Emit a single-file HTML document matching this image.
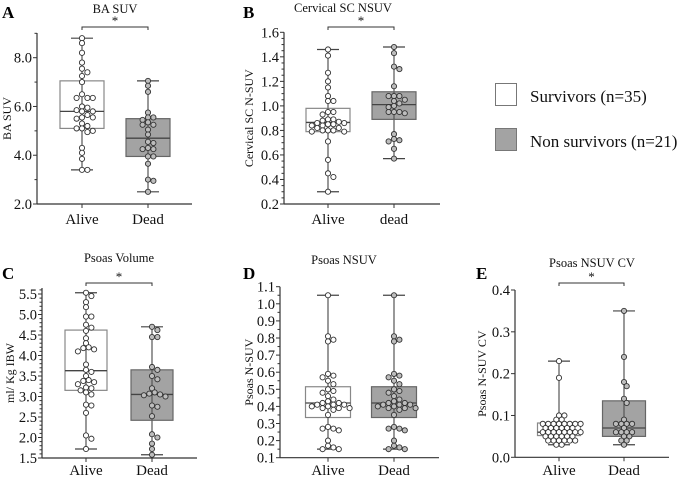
<!DOCTYPE html>
<html><head><meta charset="utf-8">
<style>
body{margin:0;background:#fff;}
svg{display:block;}
svg text{font-family:"Liberation Serif","Times New Roman",serif;}
</style></head>
<body>
<svg id="chart" width="685" height="477" viewBox="0 0 685 477" xmlns="http://www.w3.org/2000/svg" font-family="Liberation Serif, serif">
<g>
<rect x="495.5" y="83.5" width="21" height="22" fill="#fff" stroke="#777"/>
<text x="530" y="102" font-size="17" fill="#111" font-family="Liberation Serif, serif">Survivors (n=35)</text>
<rect x="495.5" y="128.5" width="21" height="22" fill="#a3a3a3" stroke="#777"/>
<text x="530" y="147" font-size="17" fill="#111" font-family="Liberation Serif, serif">Non survivors (n=21)</text>
</g>
</svg>
<script>
// ---- Data ----
const categoriesA = ["Alive","Dead"];
const aliveA = [8.8,8.6,8.2,7.8,7.55,7.4,7.25,7.0,6.5,6.35,6.35,6.35,6.0,5.95,5.85,5.8,5.8,5.65,5.55,5.5,5.55,5.3,5.2,5.1,5.1,4.95,5.0,4.3,4.1,3.85,3.4,3.4];
const deadA = [7.05,6.85,6.6,5.75,5.55,5.55,5.45,5.35,5.25,5.25,5.05,4.85,4.55,4.5,4.3,4.25,4.25,3.95,3.95,3.65,3.0,2.95,2.5];
const statsAliveA = [3.4,5.1,5.8,7.05,8.8];
const statsDeadA = [2.5,3.95,4.7,5.5,7.05];
const ticksA = [2.0,4.0,6.0,8.0];

const categoriesB = ["Alive","dead"];
const aliveB = [1.46,1.41,1.27,1.20,1.15,1.08,1.04,1.04,0.95,0.95,0.93,0.89,0.89,0.88,0.87,0.86,0.86,0.85,0.85,0.84,0.84,0.82,0.82,0.80,0.80,0.80,0.79,0.79,0.71,0.56,0.45,0.42,0.30];
const deadB = [1.48,1.43,1.32,1.30,1.16,1.08,1.08,1.08,1.05,1.04,1.02,1.00,0.99,0.95,0.95,0.95,0.94,0.77,0.73,0.72,0.71,0.65,0.57];
const statsAliveB = [0.30,0.79,0.865,0.98,1.46];
const statsDeadB = [0.57,0.89,1.01,1.115,1.48];
const ticksB = [0.2,0.4,0.6,0.8,1.0,1.2,1.4,1.6];

const categoriesC = ["Alive","Dead"];
const aliveC = [5.53,5.45,5.3,5.18,4.95,4.95,4.75,4.68,4.6,4.42,4.3,4.2,4.18,4.15,4.1,3.78,3.65,3.6,3.5,3.4,3.38,3.35,3.3,3.22,3.2,3.15,3.1,3.05,2.8,2.78,2.6,2.05,1.97,1.72];
const deadC = [4.70,4.62,4.45,4.45,3.72,3.65,3.5,3.42,3.2,3.1,3.07,3.05,3.03,3.0,2.78,2.75,2.52,2.08,2.0,1.85,1.72,1.58];
const statsAliveC = [1.72,3.15,3.63,4.62,5.53];
const statsDeadC = [1.58,2.42,3.05,3.65,4.70];
const ticksC = [1.5,2.0,2.5,3.0,3.5,4.0,4.5,5.0,5.5];

const categoriesD = ["Alive","Dead"];
const aliveD = [1.05,0.81,0.79,0.78,0.59,0.58,0.57,0.55,0.53,0.5,0.49,0.48,0.46,0.44,0.43,0.42,0.42,0.41,0.41,0.41,0.40,0.40,0.39,0.39,0.39,0.38,0.35,0.28,0.27,0.27,0.26,0.20,0.17,0.16,0.15,0.15];
const deadD = [1.05,0.81,0.79,0.78,0.59,0.58,0.57,0.55,0.53,0.5,0.49,0.48,0.46,0.44,0.43,0.42,0.42,0.41,0.41,0.41,0.40,0.40,0.39,0.39,0.39,0.38,0.35,0.28,0.27,0.27,0.26,0.20,0.17,0.16,0.15,0.15];
const statsAliveD = [0.15,0.335,0.42,0.515,1.05];
const statsDeadD = [0.15,0.335,0.42,0.515,1.05];
const ticksD = [0.1,0.2,0.3,0.4,0.5,0.6,0.7,0.8,0.9,1.0,1.1];

const categoriesE = ["Alive","Dead"];
const aliveE = [0.23,0.19,0.10,0.10,0.09,0.09,0.08,0.08,0.08,0.08,0.08,0.08,0.08,0.08,0.07,0.07,0.07,0.07,0.07,0.07,0.06,0.06,0.06,0.06,0.06,0.06,0.06,0.06,0.05,0.05,0.05,0.05,0.05,0.05,0.04,0.04,0.04,0.04,0.04,0.04,0.03,0.03];
const deadE = [0.35,0.24,0.18,0.17,0.14,0.13,0.09,0.08,0.08,0.08,0.08,0.07,0.06,0.06,0.06,0.06,0.05,0.05,0.04,0.04,0.03];
const statsAliveE = [0.03,0.052,0.06,0.082,0.23];
const statsDeadE = [0.03,0.05,0.07,0.135,0.35];
const ticksE = [0.0,0.1,0.2,0.3,0.4];

const NS = "http://www.w3.org/2000/svg";
const FONT = "Liberation Serif, serif";
const svg = document.getElementById("chart");
function mk(tag, attrs, parent){
  const e = document.createElementNS(NS, tag);
  for (const k in attrs) e.setAttribute(k, attrs[k]);
  if (tag === "text") e.setAttribute("font-family", FONT);
  (parent||svg).appendChild(e);
  return e;
}

function panel(cfg){
  const g = mk("g", {});
  
  
  const y = v => cfg.y0 + (v - cfg.vmin) / (cfg.vmax - cfg.vmin) * (cfg.y1 - cfg.y0);
  const fmt = v => v.toFixed(1);
  const L = mk("text", {x: cfg.lx, y: cfg.ly, "font-size": 17, "font-weight": "bold", fill: "#000"}, g);
  L.textContent = cfg.letter;
  
  
  const T = mk("text", {x: cfg.tx, y: cfg.ty, "font-size": 12.5, "text-anchor": "middle", fill: "#111"}, g);
  T.textContent = cfg.title;
  
  
  const yc = (cfg.axisTop + cfg.y0) / 2;
  const YT = mk("text", {x: cfg.ytx, y: yc, "font-size": 12, "text-anchor": "middle", fill: "#111", transform: `rotate(-90 ${cfg.ytx} ${yc})`}, g);
  YT.textContent = cfg.ytitle;
  
  
  const ya = mk("line", {x1: cfg.ax, x2: cfg.ax, y1: cfg.axisTop, y2: cfg.y0, stroke: "#333", "stroke-width": 1.2}, g);
  
  
  const xa = mk("line", {x1: cfg.ax, x2: cfg.axEnd, y1: cfg.y0, y2: cfg.y0, stroke: "#333", "stroke-width": 1.2}, g);
  
  
  const step = cfg.ticks[1] - cfg.ticks[0];
  cfg.ticks.forEach(t => {
    const ty = y(t);
    mk("line", {x1: cfg.ax - 4, x2: cfg.ax, y1: ty, y2: ty, stroke: "#333"}, g);
    const tl = mk("text", {x: cfg.ax - 5, y: ty + 5, "font-size": 14.5, "text-anchor": "end", fill: "#111"}, g);
    tl.textContent = fmt(t);
    
    
    if (cfg.minor) {
      for (let k = 1; k < cfg.minor; k++) {
        const mv = t + step * k / cfg.minor;
        if (y(mv) >= cfg.axisTop - 0.5) {
          mk("line", {x1: cfg.ax - 2.5, x2: cfg.ax, y1: y(mv), y2: y(mv), stroke: "#333"}, g);
        }
      }
    }
  });
  const groups = [
    {vals: cfg.alive, st: cfg.sa, cx: cfg.cx[0], fill: "#fff", boxStroke: "#888", dot: "#fff", name: "alive"},
    {vals: cfg.dead, st: cfg.sd, cx: cfg.cx[1], fill: "#a3a3a3", boxStroke: "#666", dot: "#bdbdbd", name: "dead"}
  ];
  groups.forEach((gr, i) => {
    const gg = mk("g", {}, g);
    
    
    const [wl, q1, md, q3, wh] = gr.st;
    const hw = cfg.bw / 2;
    mk("line", {x1: gr.cx, x2: gr.cx, y1: y(wh), y2: y(wl), stroke: "#555", "stroke-width": 1.2}, gg);
    mk("line", {x1: gr.cx - 11, x2: gr.cx + 11, y1: y(wh), y2: y(wh), stroke: "#444", "stroke-width": 1.2}, gg);
    mk("line", {x1: gr.cx - 11, x2: gr.cx + 11, y1: y(wl), y2: y(wl), stroke: "#444", "stroke-width": 1.2}, gg);
    const b = mk("rect", {x: gr.cx - hw, y: y(q3), width: cfg.bw, height: y(q1) - y(q3), fill: gr.fill, stroke: gr.boxStroke, "stroke-width": 1.2}, gg);
    
    
    mk("line", {x1: gr.cx, x2: gr.cx, y1: y(q3), y2: y(q1), stroke: "#555", "stroke-width": 1.2}, gg);
    const m = mk("line", {x1: gr.cx - hw, x2: gr.cx + hw, y1: y(md), y2: y(md), stroke: "#444", "stroke-width": 1.3}, gg);
    
    
    const placed = [];
    const r = 2.6, d = 4.6;
    gr.vals.forEach(v => {
      const py = y(v);
      let off = 0;
      const cands = [0];
      for (let k = 1; k < 14; k++) { cands.push(k * 2.7, -k * 2.7); }
      for (const c of cands) {
        if (placed.every(p => Math.hypot(p[0] - c, p[1] - py) >= d)) { off = c; break; }
      }
      placed.push([off, py]);
      const pt = mk("circle", {cx: gr.cx + off, cy: py, r: r, fill: gr.dot, stroke: "#333", "stroke-width": 0.9}, gg);
      
      
    });
    const xl = mk("text", {x: gr.cx, y: cfg.xly, "font-size": 15, "text-anchor": "middle", fill: "#111"}, g);
    xl.textContent = cfg.cats[i];
    
    
    mk("line", {x1: gr.cx, x2: gr.cx, y1: cfg.y0, y2: cfg.y0 + 4, stroke: "#333"}, g);
  });
  if (cfg.sig) {
    const sg = mk("g", {}, g);
    
    
    const by = cfg.sig;
    mk("path", {d: `M${cfg.cx[0]} ${by + 3}V${by}H${cfg.cx[1]}V${by + 3}`, fill: "none", stroke: "#333", "stroke-width": 1}, sg);
    const s = mk("text", {x: (cfg.cx[0] + cfg.cx[1]) / 2, y: by - 2, "font-size": 13, "text-anchor": "middle", fill: "#111"}, sg);
    s.textContent = "*";
  }
}

panel({letter:"A", lx:2, ly:18, title:"BA SUV", tx:115, ty:13, ytitle:"BA SUV", ytx:11,
  ax:37, axEnd:192, axisTop:33, y0:204, y1:57.7, vmin:2, vmax:8, ticks:ticksA, minor:2,
  cx:[82,148], bw:44, alive:aliveA, dead:deadA, sa:statsAliveA, sd:statsDeadA, cats:categoriesA, xly:224, sig:27});
panel({letter:"B", lx:243, ly:18, title:"Cervical SC NSUV", tx:343, ty:12, ytitle:"Cervical SC N-SUV", ytx:253,
  ax:284, axEnd:440, axisTop:32.3, y0:204, y1:32.3, vmin:0.2, vmax:1.6, ticks:ticksB, minor:4,
  cx:[328,394], bw:44, alive:aliveB, dead:deadB, sa:statsAliveB, sd:statsDeadB, cats:categoriesB, xly:224, sig:27});
panel({letter:"C", lx:2, ly:279, title:"Psoas Volume", tx:119, ty:262, ytitle:"ml/ Kg IBW", ytx:14,
  ax:42, axEnd:197, axisTop:288, y0:458, y1:294, vmin:1.5, vmax:5.5, ticks:ticksC, minor:5,
  cx:[86,152], bw:42, alive:aliveC, dead:deadC, sa:statsAliveC, sd:statsDeadC, cats:categoriesC, xly:475, sig:283});
panel({letter:"D", lx:243, ly:279, title:"Psoas NSUV", tx:344, ty:264, ytitle:"Psoas N-SUV", ytx:253,
  ax:280, axEnd:439, axisTop:286.7, y0:457.7, y1:286.7, vmin:0.1, vmax:1.1, ticks:ticksD, minor:2,
  cx:[328,394], bw:45, alive:aliveD, dead:deadD, sa:statsAliveD, sd:statsDeadD, cats:categoriesD, xly:475, sig:0});
panel({letter:"E", lx:476, ly:279, title:"Psoas NSUV CV", tx:592, ty:267, ytitle:"Psoas N-SUV CV", ytx:486,
  ax:515, axEnd:669, axisTop:290, y0:457.3, y1:290, vmin:0, vmax:0.4, ticks:ticksE, minor:0,
  cx:[559,624], bw:43, alive:aliveE, dead:deadE, sa:statsAliveE, sd:statsDeadE, cats:categoriesE, xly:475, sig:283});
</script>
</body></html>
